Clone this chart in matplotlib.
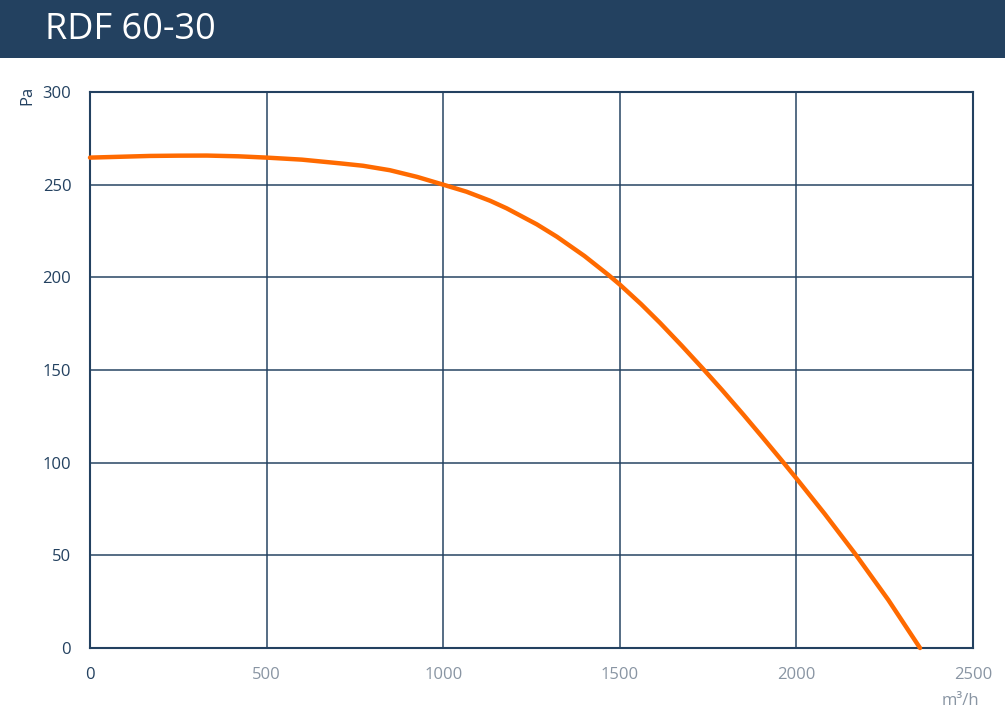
import matplotlib
matplotlib.use('Agg')
import matplotlib.pyplot as plt
from matplotlib.patches import Rectangle

plt.rcParams['font.family'] = ['Open Sans', 'DejaVu Sans']

# Fan curve RDF 60-30
airflow = [0, 170, 250, 331, 420, 500, 600, 708, 773, 849, 926, 1000, 1066, 1133, 1180,
           1265, 1322, 1400, 1467, 1500, 1560, 1614, 1675, 1734, 1790, 1850, 1900,
           1958, 2000, 2080, 2166, 2260, 2350]
pressure = [264.6, 265.5, 265.65, 265.7, 265.3, 264.6, 263.5, 261.5, 260.2, 257.8, 254.2, 250,
            246.2, 241.3, 237.2, 228.6, 221.9, 211.5, 201.4, 196.1, 185.6, 175.4, 163.2,
            151, 139.1, 125.9, 114.6, 101.3, 91.5, 72.4, 50.9, 26, 0]
xticks = [0, 500, 1000, 1500, 2000, 2500]
yticks = [0, 50, 100, 150, 200, 250, 300]

dark = '#234160'
gray = '#8995a3'
W, H = 1005, 716

fig = plt.figure(figsize=(W / 100, H / 100), dpi=100)
fig.patches.append(Rectangle((0, 1 - 58 / H), 1, 58 / H, transform=fig.transFigure,
                             facecolor=dark, edgecolor='none', zorder=0))
fig.text(45 / W, 1 - 30 / H, 'RDF 60-30', color='white', fontsize=26, va='center', ha='left')

ax = fig.add_axes([90 / W, (H - 648) / H, (973 - 90) / W, (648 - 92) / H])
ax.plot(airflow, pressure, color='#ff6a00', lw=3.2, solid_capstyle='round',
        solid_joinstyle='round', zorder=3, clip_on=False)
ax.set_xlim(0, 2500)
ax.set_ylim(0, 300)
ax.set_xticks(xticks)
ax.set_yticks(yticks)
ax.grid(True, color=dark, lw=1.2, alpha=0.9)
for s in ax.spines.values():
    s.set_color(dark)
    s.set_linewidth(1.5)
ax.tick_params(length=0, labelsize=12)
ax.tick_params(axis='x', pad=14, labelcolor=gray)
ax.tick_params(axis='y', pad=13.5, labelcolor=dark)
ax.get_xticklabels()[0].set_color(dark)

fig.text(27 / W, 1 - 95 / H, 'Pa', rotation=90, color=dark, fontsize=12, ha='center', va='center')
fig.text(960 / W, 1 - 701 / H, 'm³/h', color=gray, fontsize=12, ha='center', va='center')

fig.savefig('out.png', dpi=100)
